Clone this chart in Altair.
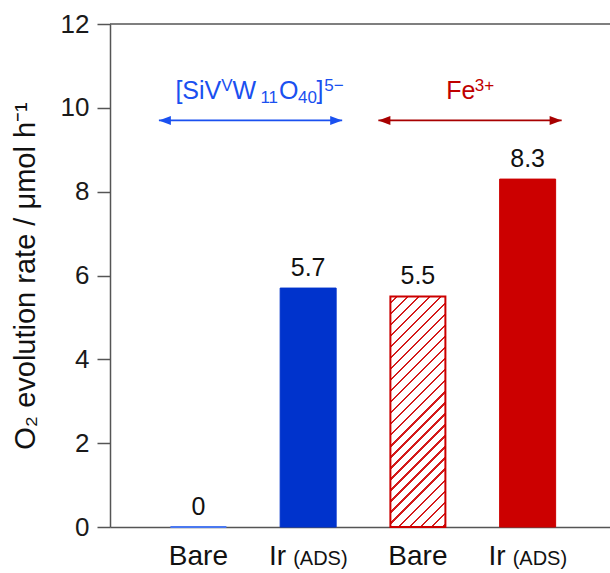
import math

import altair as alt
import pandas as pd

# ---- data -------------------------------------------------------------
slot = [0, 1, 2, 3]
surface = ["Bare", "Ir", "Bare", "Ir"]
surface_note = ["", "(ADS)", "", "(ADS)"]
rate = [0.0, 5.7, 5.5, 8.3]
rate_label = ["0", "5.7", "5.5", "8.3"]
mediator = ["pom", "pom", "fe", "fe"]
bar_style = ["solid", "solid", "hatch", "solid"]
bar_color = ["#4a78f0", "#0033cc", "#cc0000", "#cc0000"]

mediator_id = ["pom", "fe"]
mediator_color = ["#1a50f0", "#c00000"]
arrow_color = ["#1a50f0", "#a80000"]
# each mediator formula as (text, role, gap before the run in px)
mediator_runs = {
    "pom": [("[SiV", "main", 0), ("V", "sup", 1), ("W", "main", 0),
            ("11", "sub", 5), ("O", "main", 0), ("40", "sub", 0),
            ("]", "main", 0), ("5\u2212", "sup", 1)],
    "fe": [("Fe", "main", 0), ("3+", "sup", 0)],
}
label_nudge_px = [9, 0]

# ---- layout / style ---------------------------------------------------
W, H = 500, 503
Y_MAX = 12
X_DOMAIN = [-0.76, 3.705]
BAR_PX = 57
FONT = "Liberation Sans, Arial, Helvetica, sans-serif"
AXIS_COLOR = "#555555"
TEXT_COLOR = "#111111"
ARROW_Y = 9.7
MEDIATOR_TEXT_Y = 10.22
MAIN_SIZE, SMALL_SIZE = 25, 17
ROLE_SHIFT_PX = {"main": 0, "sup": -8, "sub": 4}

PX_PER_X = W / (X_DOMAIN[1] - X_DOMAIN[0])
PX_PER_Y = H / Y_MAX

# Arial / Liberation Sans advance widths (1/1000 em) for the formula glyphs
ADV = {"[": 278, "]": 278, "S": 667, "i": 222, "V": 667, "W": 944, "O": 778,
       "F": 611, "e": 556, " ": 278, "+": 584, "\u2212": 584}
for d in "0123456789":
    ADV[d] = 556

df = pd.DataFrame({
    "slot": slot,
    "surface": surface,
    "note": surface_note,
    "rate": rate,
    "rate_label": rate_label,
    "mediator": mediator,
    "style": bar_style,
    "color": bar_color,
})

groups = df.groupby("mediator")["slot"].agg(["min", "max"])
med = pd.DataFrame({
    "mediator": mediator_id,
    "text_color": mediator_color,
    "arrow_color": arrow_color,
})
med["start"] = [groups.loc[m, "min"] - 0.36 for m in mediator_id]
med["end"] = [groups.loc[m, "max"] + 0.31 for m in mediator_id]
med["center"] = (med["start"] + med["end"]) / 2

# lay out the formula runs left to right, centred over each arrow
run_rows = []
for m, center, nudge, col in zip(med["mediator"], med["center"],
                                 label_nudge_px, med["text_color"]):
    runs = mediator_runs[m]
    widths = []
    for text, role, gap in runs:
        size = MAIN_SIZE if role == "main" else SMALL_SIZE
        widths.append(gap + sum(ADV[ch] for ch in text) * size / 1000)
    left = -sum(widths) / 2 + nudge
    for (text, role, gap), w in zip(runs, widths):
        size = MAIN_SIZE if role == "main" else SMALL_SIZE
        run_rows.append({
            "text": text,
            "size": size,
            "x": center + (left + gap) / PX_PER_X,
            "y": MEDIATOR_TEXT_Y - ROLE_SHIFT_PX[role] / PX_PER_Y,
            "color": col,
        })
        left += w
runs_df = pd.DataFrame(run_rows)

# ---- diagonal hatch for the bare Fe3+ bar, as a striped gradient --------
hatch_rate = df.loc[df["style"] == "hatch", "rate"].iloc[0]
hw = BAR_PX - 2
hh = hatch_rate * PX_PER_Y
k = (hw + hh) / (hw * hw + hh * hh)
span = (hw + hh) / math.sqrt(2)
period = 7.8 / span
line = 1.6 / span
stops = [alt.GradientStop(offset=0, color="white")]
c = period * 0.5
while c + line < 1:
    stops += [
        alt.GradientStop(offset=c, color="white"),
        alt.GradientStop(offset=c, color="#d41a1a"),
        alt.GradientStop(offset=c + line, color="#d41a1a"),
        alt.GradientStop(offset=c + line, color="white"),
    ]
    c += period
stops.append(alt.GradientStop(offset=1, color="white"))
hatch = alt.LinearGradient(gradient="linear", stops=stops,
                           x1=0, y1=0, x2=k * hw, y2=k * hh)

# ---- encodings --------------------------------------------------------
x_scale = alt.Scale(domain=X_DOMAIN, nice=False, zero=False)
x_enc = alt.X(
    "slot:Q", scale=x_scale,
    axis=alt.Axis(labels=False, ticks=False, title=None, grid=False,
                  domainColor=AXIS_COLOR, domainWidth=1.5),
)
y_enc = alt.Y(
    "rate:Q",
    scale=alt.Scale(domain=[0, Y_MAX], nice=False),
    axis=alt.Axis(
        values=[0, 2, 4, 6, 8, 10, 12],
        tickSize=13, tickWidth=1.5, tickColor=AXIS_COLOR,
        domainColor=AXIS_COLOR, domainWidth=1.5,
        labelFont=FONT, labelFontSize=26, labelColor="#1a1a1a",
        labelPadding=8, grid=False,
        title="O₂ evolution rate / μmol h⁻¹",
        titleFont=FONT, titleFontSize=29, titleFontWeight="normal",
        titleColor=TEXT_COLOR, titlePadding=20,
    ),
)

base = alt.Chart(df)

solid_bars = base.transform_filter(alt.datum.style == "solid").mark_bar(
    width=BAR_PX - 1, orient="vertical"
).encode(
    x=x_enc, y=y_enc,
    fill=alt.Color("color:N", scale=None),
    stroke=alt.Stroke("color:N", scale=None),
    strokeWidth=alt.condition(alt.datum.rate == 0, alt.value(2), alt.value(1)),
)

hatch_bar = base.transform_filter(alt.datum.style == "hatch").mark_bar(
    width=BAR_PX - 2, orient="vertical", fill=hatch,
    stroke="#cc0000", strokeWidth=2,
).encode(x=x_enc, y=y_enc)

value_labels = base.mark_text(
    dy=-12, baseline="alphabetic", font=FONT, fontSize=25, color=TEXT_COLOR
).encode(x=x_enc, y=y_enc, text="rate_label:N")

label_y = alt.value(H + 38)
bare_labels = base.transform_filter(alt.datum.note == "").mark_text(
    baseline="alphabetic", font=FONT, fontSize=28, color=TEXT_COLOR
).encode(x=x_enc, y=label_y, text="surface:N")
ir_labels = base.transform_filter(alt.datum.note != "").mark_text(
    align="right", dx=-22, baseline="alphabetic", font=FONT, fontSize=28,
    color=TEXT_COLOR
).encode(x=x_enc, y=label_y, text="surface:N")
note_labels = base.transform_filter(alt.datum.note != "").mark_text(
    align="left", dx=-15, baseline="alphabetic", font=FONT, fontSize=20,
    color=TEXT_COLOR
).encode(x=x_enc, y=label_y, text="note:N")

frame_top = alt.Chart(pd.DataFrame({"top": [Y_MAX]})).mark_rule(
    color=AXIS_COLOR, strokeWidth=1.5
).encode(y="top:Q", x=alt.value(0), x2=alt.value(W))

mbase = alt.Chart(med)
arrow_line = mbase.mark_rule(strokeWidth=1.6).encode(
    x=alt.X("start:Q", scale=x_scale), x2="end:Q", y=alt.datum(ARROW_Y),
    color=alt.Color("arrow_color:N", scale=None),
)
head_left = mbase.mark_point(
    shape="M0,0L2.4,-0.9L2.4,0.9Z", filled=True, size=100, opacity=1
).encode(x=alt.X("start:Q", scale=x_scale), y=alt.datum(ARROW_Y),
         color=alt.Color("arrow_color:N", scale=None))
head_right = mbase.mark_point(
    shape="M0,0L-2.4,-0.9L-2.4,0.9Z", filled=True, size=100, opacity=1
).encode(x=alt.X("end:Q", scale=x_scale), y=alt.datum(ARROW_Y),
         color=alt.Color("arrow_color:N", scale=None))
mediator_labels = alt.Chart(runs_df).mark_text(
    align="left", baseline="alphabetic", font=FONT
).encode(
    x=alt.X("x:Q", scale=x_scale), y=alt.Y("y:Q"),
    text="text:N",
    size=alt.Size("size:Q", scale=None),
    color=alt.Color("color:N", scale=None),
)

chart = alt.layer(
    frame_top, solid_bars, hatch_bar, value_labels,
    bare_labels, ir_labels, note_labels,
    arrow_line, head_left, head_right, mediator_labels,
).properties(
    width=W, height=H,
    padding={"left": 110, "top": 24, "right": 0, "bottom": 46},
    autosize=alt.AutoSizeParams(type="none"),
).configure_view(stroke=None)

chart.save("out.html", embed_options={"renderer": "svg", "actions": False})
